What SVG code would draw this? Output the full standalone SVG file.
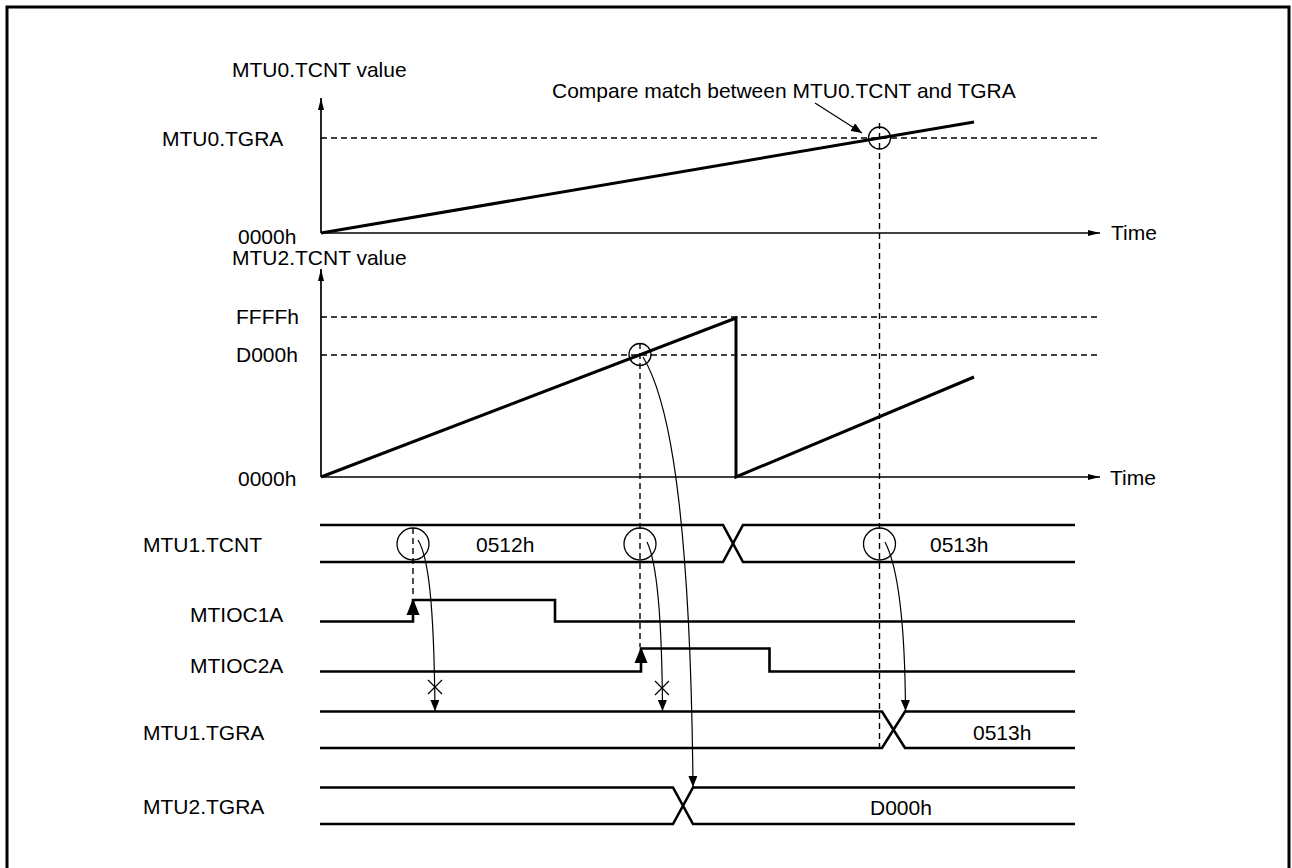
<svg xmlns="http://www.w3.org/2000/svg" width="1292" height="868" viewBox="0 0 1292 868">
<style>
text{font-family:"Liberation Sans",Arial,sans-serif;font-size:21px;fill:#000}
.axis{fill:none;stroke:#000;stroke-width:1.7}
.ramp{fill:none;stroke:#000;stroke-width:3;stroke-linejoin:miter}
.sig{fill:none;stroke:#000;stroke-width:2.6}
.dash{fill:none;stroke:#000;stroke-width:1.4;stroke-dasharray:6 4}
.thin{fill:none;stroke:#000;stroke-width:1.2}
.circ{fill:none;stroke:#000;stroke-width:1.3}
</style>
<defs>
<marker id="axArrow" viewBox="0 0 12 8" refX="12" refY="4" markerWidth="12" markerHeight="8" markerUnits="userSpaceOnUse" orient="auto"><path d="M0,1 L12,4 L0,7 Z" fill="#000"/></marker>
<marker id="thinArrow" viewBox="0 0 11 9" refX="11" refY="4.5" markerWidth="11" markerHeight="9" markerUnits="userSpaceOnUse" orient="auto"><path d="M0,0 L11,4.5 L0,9 Z" fill="#000"/></marker>
</defs>
<rect x="7" y="7" width="1282" height="880" fill="none" stroke="#000" stroke-width="3"/>

<g id="graph-mtu0">
<line class="axis" x1="321" y1="233" x2="321" y2="98" marker-end="url(#axArrow)"/>
<line class="axis" x1="321" y1="233" x2="1100" y2="233" marker-end="url(#axArrow)"/>
<line class="dash" x1="321" y1="138" x2="1098" y2="138"/>
<path class="ramp" d="M321,233 L974,122"/>
<circle class="circ" cx="879.5" cy="138" r="11"/>
<text x="232" y="77">MTU0.TCNT value</text>
<text x="162" y="146">MTU0.TGRA</text>
<text x="238" y="244">0000h</text>
<text x="1111" y="240">Time</text>
<text x="552" y="98">Compare match between MTU0.TCNT and TGRA</text>
</g>

<g id="graph-mtu2">
<line class="axis" x1="321" y1="477" x2="321" y2="269" marker-end="url(#axArrow)"/>
<line class="axis" x1="321" y1="477" x2="1100" y2="477" marker-end="url(#axArrow)"/>
<line class="dash" x1="321" y1="317" x2="1098" y2="317"/>
<line class="dash" x1="321" y1="355" x2="1098" y2="355"/>
<path class="ramp" d="M321,477 L736,318 L736,477 L974,377"/>
<circle class="circ" cx="640" cy="354.5" r="11"/>
<text x="232" y="265">MTU2.TCNT value</text>
<text x="236" y="324">FFFFh</text>
<text x="236" y="362">D000h</text>
<text x="238" y="486">0000h</text>
<text x="1110" y="485">Time</text>
</g>

<g id="sig-mtu1-tcnt">
<path class="sig" d="M320,525 H723 L743,562 H1075"/>
<path class="sig" d="M320,562 H723 L743,525 H1075"/>
<circle class="circ" cx="413" cy="544" r="16"/>
<circle class="circ" cx="640" cy="544" r="16"/>
<circle class="circ" cx="879.5" cy="544" r="16"/>
<text x="143" y="552">MTU1.TCNT</text>
<text x="476" y="552">0512h</text>
<text x="930" y="552">0513h</text>
</g>

<g id="sig-mtioc1a">
<path class="sig" d="M320,621.5 H413 V600 H555 V621.5 H1075"/>
<polygon points="413,598.5 406.5,615 419.5,615" fill="#000"/>
<text x="190" y="622">MTIOC1A</text>
</g>

<g id="sig-mtioc2a">
<path class="sig" d="M320,671.5 H641 V648.5 H769.5 V671.5 H1075"/>
<polygon points="641,647 634.5,663 647.5,663" fill="#000"/>
<text x="190" y="673">MTIOC2A</text>
</g>

<g id="sig-mtu1-tgra">
<path class="sig" d="M320,711.5 H882 L905,748 H1075"/>
<path class="sig" d="M320,748 H882 L905,711.5 H1075"/>
<text x="143" y="739.5">MTU1.TGRA</text>
<text x="973" y="739.5">0513h</text>
</g>

<g id="sig-mtu2-tgra">
<path class="sig" d="M320,787.5 H673 L693,824 H1075"/>
<path class="sig" d="M320,824 H673 L693,787.5 H1075"/>
<text x="143" y="814">MTU2.TGRA</text>
<text x="870" y="814.5">D000h</text>
</g>

<g id="connectors">
<line class="dash" x1="879.5" y1="123" x2="879.5" y2="748"/>
<line class="dash" x1="640" y1="343" x2="640" y2="647"/>
<line class="dash" x1="413" y1="528" x2="413" y2="598"/>
<line class="thin" x1="815" y1="103" x2="862" y2="133" marker-end="url(#thinArrow)"/>
<path class="thin" d="M418,540 C428,556 434,600 435,711" marker-end="url(#thinArrow)"/>
<path class="thin" d="M647,542 C656,560 662,610 662.5,711" marker-end="url(#thinArrow)"/>
<path class="thin" d="M885,542 C897,565 905,620 905.5,711" marker-end="url(#thinArrow)"/>
<path class="thin" d="M643,357 C660,385 690,460 693,787" marker-end="url(#thinArrow)"/>
<path class="thin" d="M428,680 L442,694 M442,680 L428,694"/>
<path class="thin" d="M655,681 L669,695 M669,681 L655,695"/>
</g>
</svg>
